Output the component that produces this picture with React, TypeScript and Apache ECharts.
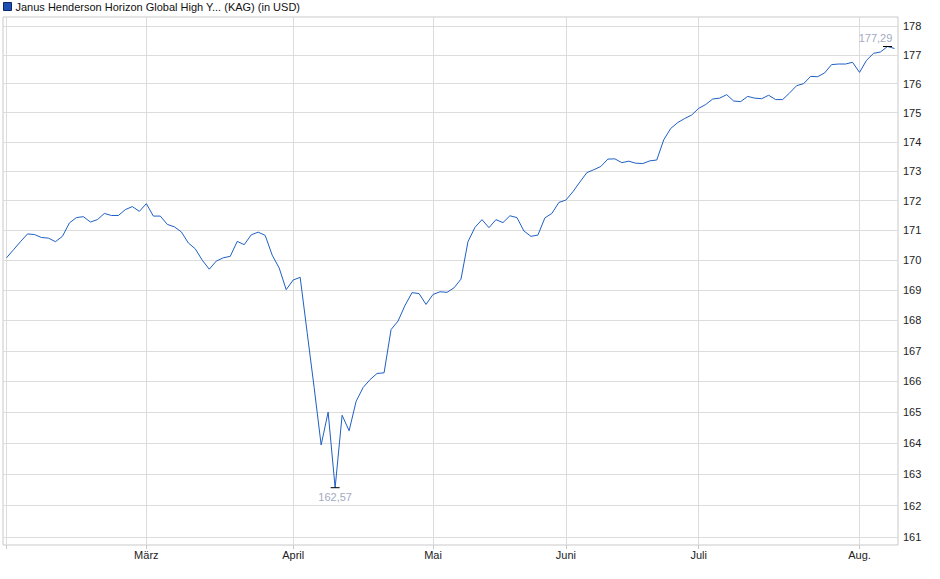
import { useRef, useEffect } from 'react';
import * as echarts from 'echarts';

// Kurse je Monat (Handelstage)
const feb = [170.08, 170.35, 170.62, 170.88, 170.86, 170.76, 170.74, 170.62, 170.8, 171.25, 171.43, 171.46, 171.28, 171.36, 171.57, 171.5, 171.5, 171.7, 171.8, 171.64];
const mar = [171.9, 171.48, 171.48, 171.2, 171.12, 170.95, 170.58, 170.38, 170.0, 169.7, 169.97, 170.08, 170.13, 170.63, 170.52, 170.85, 170.94, 170.83, 170.17, 169.74, 169.02];
const apr = [169.34, 169.43, 167.6, 165.8, 163.94, 165.0, 162.57, 164.9, 164.4, 165.35, 165.8, 166.06, 166.26, 166.28, 167.7, 167.98, 168.5, 168.92, 168.89, 168.53];
const may = [168.86, 168.95, 168.93, 169.08, 169.37, 170.62, 171.1, 171.36, 171.09, 171.36, 171.26, 171.49, 171.43, 170.98, 170.8, 170.84, 171.42, 171.57, 171.94];
const jun = [172.02, 172.3, 172.63, 172.95, 173.05, 173.16, 173.41, 173.42, 173.29, 173.34, 173.27, 173.26, 173.35, 173.38, 174.07, 174.46, 174.66, 174.8, 174.92];
const jul = [175.15, 175.28, 175.47, 175.5, 175.62, 175.4, 175.38, 175.56, 175.5, 175.48, 175.6, 175.45, 175.45, 175.68, 175.93, 176.0, 176.25, 176.24, 176.37, 176.66, 176.68, 176.68, 176.74];
const aug = [176.39, 176.81, 177.05, 177.1, 177.29, 177.22];

const months = [feb, mar, apr, may, jun, jul, aug];
const monthLabels = ['', 'März', 'April', 'Mai', 'Juni', 'Juli', 'Aug.'];
const yTicks = [161, 162, 163, 164, 165, 166, 167, 168, 169, 170, 171, 172, 173, 174, 175, 176, 177, 178];
const seriesName = 'Janus Henderson Horizon Global High Y... (KAG) (in USD)';

const FONT = 'Liberation Sans, Arial, sans-serif';
const fmt = (v: number) => v.toFixed(2).replace('.', ',');

export default function App() {
  const ref = useRef<HTMLDivElement>(null);

  useEffect(() => {
    if (!ref.current) return;
    const prices = months.flat();
    const data = prices.map((v, i) => [i, v]);
    const monthStarts: number[] = [];
    let acc = 0;
    months.forEach((m) => { monthStarts.push(acc); acc += m.length; });
    const labelAt: Record<number, string> = {};
    monthStarts.forEach((s, i) => { labelAt[s] = monthLabels[i]; });

    const chart = echarts.init(ref.current, undefined, { renderer: 'svg' });
    chart.setOption({
      animation: false,
      textStyle: { fontFamily: FONT },
      legend: {
        left: 3, top: 1, padding: 0, itemWidth: 8, itemHeight: 8, itemGap: 4,
        icon: 'rect',
        textStyle: { fontSize: 11, color: '#111', fontFamily: FONT, padding: [0, 0, 0, -1] },
        data: [{ name: seriesName, itemStyle: { color: '#1d4fb5', borderColor: '#0c2866', borderWidth: 1 } }],
      },
      grid: { left: 3, right: 42, top: 17, bottom: 34, show: true, borderColor: '#c9c9c9', borderWidth: 1 },
      xAxis: {
        type: 'value',
        min: -0.5,
        max: prices.length - 0.5,
        axisLine: { show: false },
        axisTick: { show: true, customValues: monthStarts, length: 4, lineStyle: { color: '#c9c9c9' } },
        axisLabel: {
          customValues: monthStarts.slice(1),
          formatter: (v: number) => labelAt[v] ?? '',
          fontSize: 11, color: '#222', margin: 4, fontFamily: FONT,
        },
        splitLine: { show: true, lineStyle: { color: '#dcdcdc', width: 1 } },
      },
      yAxis: {
        type: 'log',
        position: 'right',
        min: 160.75,
        max: 178.32,
        axisLine: { show: false },
        axisTick: { show: false, customValues: yTicks },
        axisLabel: { customValues: yTicks, formatter: (v: number) => String(Math.round(v)), fontSize: 11, color: '#222', margin: 5, fontFamily: FONT },
        splitLine: { show: true, lineStyle: { color: '#dcdcdc', width: 1 } },
      },
      series: [{
        name: seriesName,
        type: 'line',
        data,
        showSymbol: false,
        symbol: 'none',
        lineStyle: { color: '#1f5fc4', width: 1 },
        itemStyle: { color: '#1d4fb5' },
        markPoint: {
          symbol: 'rect',
          symbolSize: [9, 1],
          itemStyle: { color: '#000' },
          data: [
            { type: 'max', label: { show: true, position: 'top', distance: 2, offset: [-12, 0], formatter: (p: any) => fmt(p.value), color: '#a2aac0', fontSize: 11, fontFamily: FONT } },
            { type: 'min', label: { show: true, position: 'bottom', distance: 3, formatter: (p: any) => fmt(p.value), color: '#a2aac0', fontSize: 11, fontFamily: FONT } },
          ],
        },
      }],
    });
    return () => chart.dispose();
  }, []);

  return <div ref={ref} style={{ position: 'fixed', left: 0, top: 0, width: 940, height: 579, background: '#fff' }} />;
}
